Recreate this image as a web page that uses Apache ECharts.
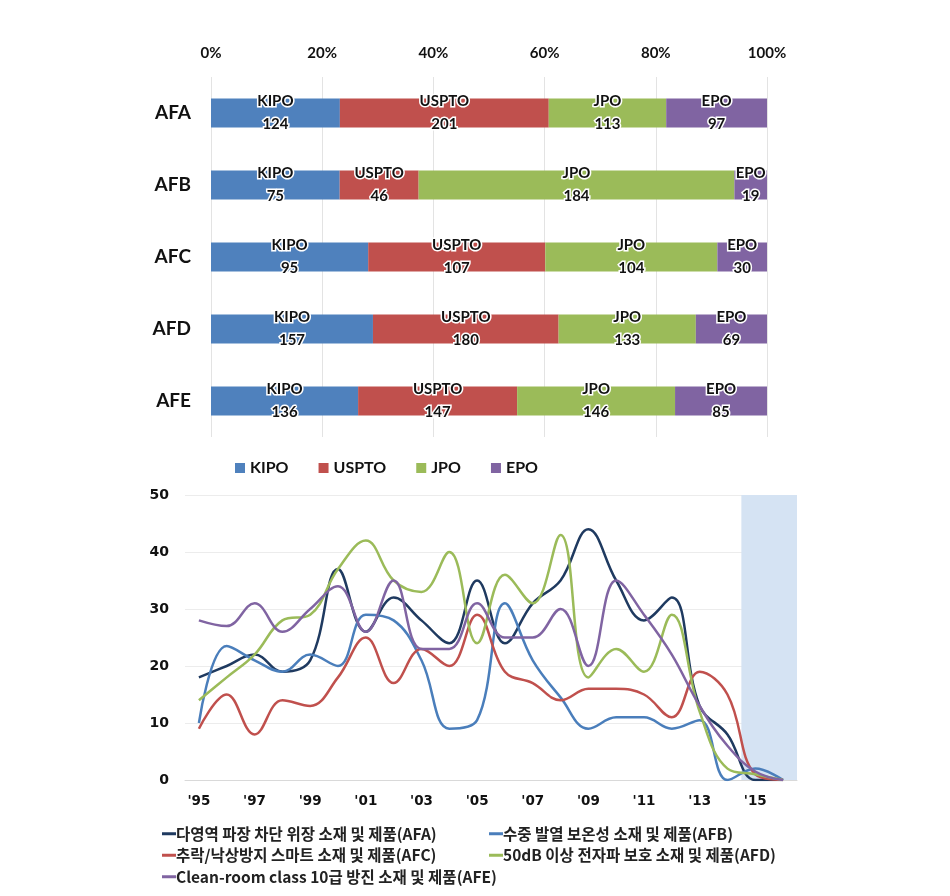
<!DOCTYPE html>
<html>
<head>
<meta charset="utf-8">
<script src="https://cdn.jsdelivr.net/npm/echarts@6/dist/echarts.min.js"></script>
<style>
html,body{margin:0;padding:0;background:#fff;}
#c{width:950px;height:896px;}
</style>
</head>
<body>
<div id="c"></div>
<script>
// ---- Top chart data ----
const groups = ['AFA', 'AFB', 'AFC', 'AFD', 'AFE'];
const offices = ['KIPO', 'USPTO', 'JPO', 'EPO'];
const kipo  = [124, 75, 95, 157, 136];
const uspto = [201, 46, 107, 180, 147];
const jpo   = [113, 184, 104, 133, 146];
const epo   = [97, 19, 30, 69, 85];
const pctTicks = [0, 20, 40, 60, 80, 100];

// ---- Bottom chart data ----
const years = ["'95","'96","'97","'98","'99","'00","'01","'02","'03","'04","'05","'06","'07","'08","'09","'10","'11","'12","'13","'14","'15","'16"];
const afa = [18, 20, 22, 19, 21, 37, 26, 32, 28, 24, 35, 24, 31, 35, 44, 35, 28, 32, 13, 8, 0, 0];
const afb = [10, 23.5, 21, 19, 22, 20, 29, 28, 21, 9, 10.5, 31, 21, 14.5, 9, 11, 11, 9, 10.5, 0, 2, 0];
const afc = [9, 15, 8, 14, 13, 18, 25, 17, 23, 20, 29, 19, 17, 14, 16, 16, 15, 11, 19, 15, 1, 0];
const afd = [14, 18, 22, 28, 29, 37, 42, 35, 33, 40, 24, 36, 31, 43, 18, 23, 19, 29, 12, 2, 1, 0];
const afe = [28, 27, 31, 26, 30, 34, 26, 35, 23, 23, 31, 25, 25, 30, 20, 35, 29, 22, 13, 6, 1.5, 0];
const lineNames = [
  '다영역 파장 차단 위장 소재 및 제품(AFA)',
  '수중 발열 보온성 소재 및 제품(AFB)',
  '추락/낙상방지 스마트 소재 및 제품(AFC)',
  '50dB 이상 전자파 보호 소재 및 제품(AFD)',
  'Clean-room class 10급 방진 소재 및 제품(AFE)'
];
const shadeStart = "'15";

const barColors = ['#4f81bd', '#c0504d', '#9bbb59', '#8064a2'];
const lineColors = ['#1f3a60', '#4a7ebb', '#c0504d', '#9bbb59', '#8064a2'];
const latin = "Lato, 'Open Sans', sans-serif";
const wide = "'DejaVu Sans', 'Open Sans', sans-serif";
const kr = "'Noto Sans CJK KR', 'Noto Sans', sans-serif";

const raw = [kipo, uspto, jpo, epo];
const totals = groups.map((g, i) => raw.reduce((s, a) => s + a[i], 0));

const barSeries = offices.map((name, k) => ({
  name: name,
  type: 'bar',
  stack: 'total',
  xAxisIndex: 0,
  yAxisIndex: 0,
  barWidth: '40%',
  itemStyle: { color: barColors[k] },
  label: {
    show: true,
    position: 'inside',
    formatter: (p) => name + '\n' + raw[k][p.dataIndex],
    fontFamily: latin,
    fontWeight: 'bold',
    fontSize: 15,
    lineHeight: 23,
    color: '#111',
    textBorderColor: '#fff',
    textBorderWidth: 3
  },
  data: raw[k].map((v, i) => v / totals[i] * 100)
}));

const lineData = [afa, afb, afc, afd, afe];
const lineSeries = lineData.map((d, k) => ({
  name: lineNames[k],
  type: 'line',
  xAxisIndex: 1,
  yAxisIndex: 1,
  smooth: 0.4,
  symbol: 'none',
  z: 3,
  lineStyle: { width: 2.5, color: lineColors[k] },
  itemStyle: { color: lineColors[k] },
  data: d
}));

const shadeFrom = years.indexOf(shadeStart) - 0.5;

const legendText = { fontFamily: kr, fontSize: 15.5, fontWeight: 'bold', color: '#222', padding: [0, 0, 0, -5] };

const option = {
  backgroundColor: '#fff',
  animation: false,
  grid: [
    { left: 211, right: 183, top: 77, height: 360 },
    { left: 185, right: 153, top: 495, height: 285 }
  ],
  legend: [
    {
      data: offices,
      left: 230, top: 455,
      itemWidth: 10, itemHeight: 10, itemGap: 30,
      icon: 'rect',
      textStyle: { fontFamily: latin, fontWeight: 'bold', fontSize: 16, color: '#111' }
    },
    {
      data: [lineNames[0], lineNames[2], lineNames[4]],
      orient: 'vertical',
      left: 157, top: 821,
      itemWidth: 14, itemHeight: 3, itemGap: 6,
      icon: 'rect',
      textStyle: legendText
    },
    {
      data: [lineNames[1], lineNames[3]],
      orient: 'vertical',
      left: 484, top: 821,
      itemWidth: 14, itemHeight: 3, itemGap: 6,
      icon: 'rect',
      textStyle: legendText
    }
  ],
  xAxis: [
    {
      type: 'value', gridIndex: 0, position: 'top',
      min: pctTicks[0], max: pctTicks[pctTicks.length - 1], interval: 20,
      axisLine: { show: false }, axisTick: { show: false },
      axisLabel: { formatter: '{value}%', fontFamily: latin, fontWeight: 'bold', fontSize: 15, color: '#111', margin: 16 },
      splitLine: { lineStyle: { color: '#e3e3e3' } }
    },
    {
      type: 'category', gridIndex: 1, data: years, boundaryGap: true,
      axisLine: { lineStyle: { color: '#d9d9d9' } },
      axisTick: { show: false },
      axisLabel: { interval: 1, fontFamily: wide, fontWeight: 'bold', fontSize: 13.5, color: '#111', margin: 14 }
    },
    {
      type: 'value', gridIndex: 1, min: -0.5, max: years.length - 0.5,
      show: false
    }
  ],
  yAxis: [
    {
      type: 'category', gridIndex: 0, data: groups, inverse: true,
      axisLine: { show: false }, axisTick: { show: false },
      axisLabel: { fontFamily: latin, fontWeight: 'bold', fontSize: 19, color: '#111', margin: 20 }
    },
    {
      type: 'value', gridIndex: 1, min: 0, max: 50, interval: 10,
      axisLine: { show: false }, axisTick: { show: false },
      axisLabel: { fontFamily: wide, fontWeight: 'bold', fontSize: 14, color: '#111', margin: 16 },
      splitLine: { lineStyle: { color: '#ececec' } }
    }
  ],
  series: [
    ...barSeries,
    {
      name: 'shade',
      type: 'line',
      xAxisIndex: 2,
      yAxisIndex: 1,
      data: [],
      z: 1,
      silent: true,
      markArea: {
        silent: true,
        itemStyle: { color: '#d5e3f3' },
        data: [[{ xAxis: shadeFrom }, { xAxis: 'max' }]]
      }
    },
    ...lineSeries
  ]
};

const chart = echarts.init(document.getElementById('c'), null, { renderer: 'canvas' });
chart.setOption(option);
</script>
</body>
</html>
